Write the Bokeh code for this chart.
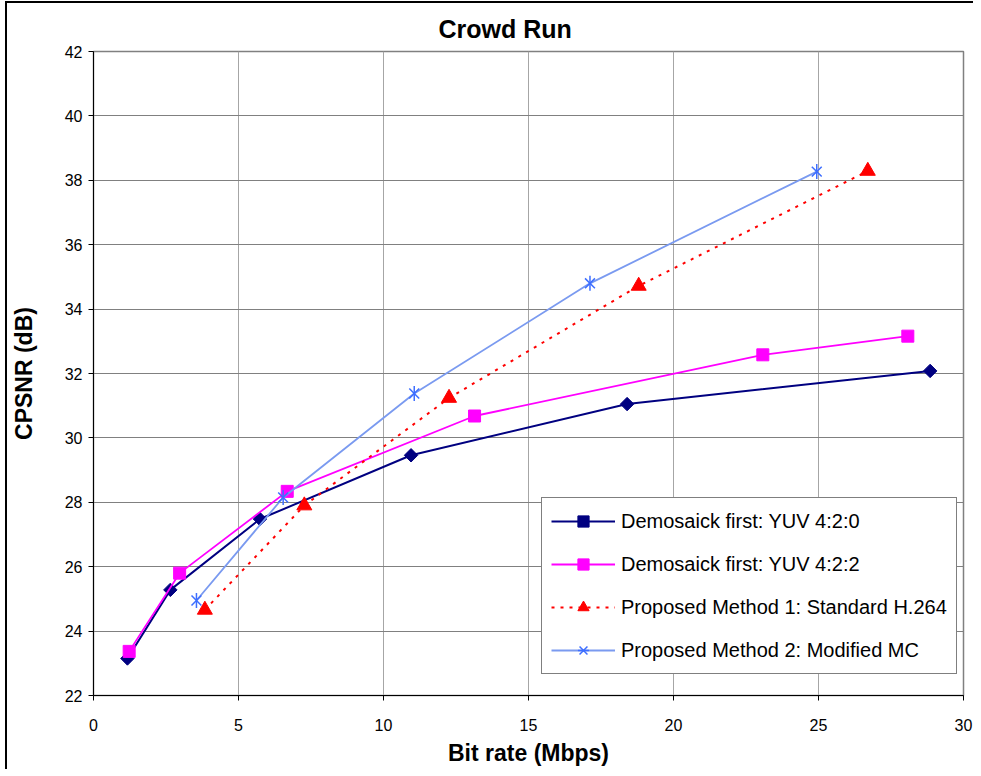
import math
from bokeh.plotting import figure
from bokeh.models import Range1d, FixedTicker, Legend, LegendItem
from bokeh.embed import file_html
from bokeh.resources import INLINE

# ---------------- data ----------------
title_text = "Crowd Run"
x_label = "Bit rate (Mbps)"
y_label = "CPSNR (dB)"
x_ticks = [0, 5, 10, 15, 20, 25, 30]
y_ticks = [22, 24, 26, 28, 30, 32, 34, 36, 38, 40, 42]

series_names = [
    "Demosaick first: YUV 4:2:0",
    "Demosaick first: YUV 4:2:2",
    "Proposed Method 1: Standard H.264",
    "Proposed Method 2: Modified MC",
]

x_420 = [1.17, 2.65, 5.74, 10.95, 18.40, 28.85]
y_420 = [23.15, 25.28, 27.48, 29.46, 31.05, 32.08]

x_422 = [1.23, 2.97, 6.68, 13.14, 23.08, 28.08]
y_422 = [23.37, 25.80, 28.34, 30.68, 32.58, 33.16]

x_m1 = [3.84, 7.27, 12.26, 18.80, 26.70]
y_m1 = [24.66, 27.90, 31.24, 34.72, 38.29]

x_m2 = [3.55, 6.54, 11.06, 17.12, 24.94]
y_m2 = [24.95, 28.15, 31.38, 34.80, 38.27]

FONT = "Liberation Sans"

p = figure(width=968, height=768, output_backend="svg", toolbar_location=None,
           x_range=Range1d(0, 30), y_range=Range1d(22, 42),
           min_border_left=86, min_border_right=12,
           min_border_top=48, min_border_bottom=76)

p.styles = {"margin-left": "7px", "margin-top": "3px",
            "box-shadow": "-2px -2px 0 0 black"}

p.background_fill_color = "white"
p.border_fill_color = "white"
p.outline_line_color = "#808080"
p.outline_line_width = 1.5

p.title.text = title_text
p.title.align = "left"
p.title.offset = 345
p.title.text_font = FONT
p.title.text_font_size = "25px"
p.title.text_font_style = "bold"
p.title.text_color = "black"
p.title.standoff = 17

for ax, ticks, lab in ((p.xaxis[0], x_ticks, x_label), (p.yaxis[0], y_ticks, y_label)):
    ax.ticker = FixedTicker(ticks=ticks)
    ax.axis_label = lab
    ax.axis_label_text_font = FONT
    ax.axis_label_text_font_size = "23px"
    ax.axis_label_text_font_style = "bold"
    ax.axis_label_text_color = "black"
    ax.major_label_text_font = FONT
    ax.major_label_text_font_size = "16px"
    ax.major_label_text_color = "black"
    ax.axis_line_color = "black"
    ax.axis_line_width = 1
    ax.major_tick_line_color = "black"
    ax.major_tick_out = 5
    ax.major_tick_in = 0
    ax.minor_tick_line_color = None

p.xaxis.major_label_standoff = 18
p.xaxis.axis_label_standoff = 6
p.yaxis.major_label_standoff = 6
p.yaxis.axis_label_standoff = 25

p.xgrid.ticker = FixedTicker(ticks=x_ticks)
p.ygrid.ticker = FixedTicker(ticks=y_ticks)
p.xgrid.grid_line_color = "#a6a6a6"
p.ygrid.grid_line_color = "#808080"
p.xgrid.grid_line_width = 1
p.ygrid.grid_line_width = 1

# ---------------- series ----------------
l1 = p.line(x_420, y_420, line_color="#000080", line_width=2)
m1 = p.scatter(x_420, y_420, marker="square", size=9.5, angle=math.pi / 4,
               fill_color="#000080", line_color="#000080")

l2 = p.line(x_422, y_422, line_color="#FF00FF", line_width=1.8)
m2 = p.scatter(x_422, y_422, marker="square", size=12,
               fill_color="#FF00FF", line_color="#FF00FF")

l3 = p.line(x_m1, y_m1, line_color="#FF0000", line_width=2, line_dash="3 6")
m3 = p.scatter(x_m1, y_m1, marker="triangle", size=15,
               fill_color="#FF0000", line_color="#FF0000")

l4 = p.line(x_m2, y_m2, line_color="#7A9AF0", line_width=1.8)
m4a = p.scatter(x_m2, y_m2, marker="x", size=14, line_color="#3D6EFF", line_width=1.5)
m4b = p.scatter(x_m2, y_m2, marker="dash", size=15, angle=math.pi / 2,
                line_color="#3D6EFF", line_width=1.5)

legend = Legend(items=[
    LegendItem(label=series_names[0], renderers=[l1, m1]),
    LegendItem(label=series_names[1], renderers=[l2, m2]),
    LegendItem(label=series_names[2], renderers=[l3, m3]),
    LegendItem(label=series_names[3], renderers=[l4, m4a, m4b]),
], location=(448, 21))
legend.border_line_color = "black"
legend.border_line_width = 1
legend.background_fill_color = "white"
legend.background_fill_alpha = 1
legend.label_text_font = FONT
legend.label_text_font_size = "20px"
legend.label_text_color = "black"
legend.glyph_width = 64
legend.glyph_height = 28
legend.label_height = 28
legend.spacing = 15
legend.padding = 9
legend.label_standoff = 6
legend.margin = 0
p.add_layout(legend)

open("out.html", "w").write(file_html(p, INLINE))
